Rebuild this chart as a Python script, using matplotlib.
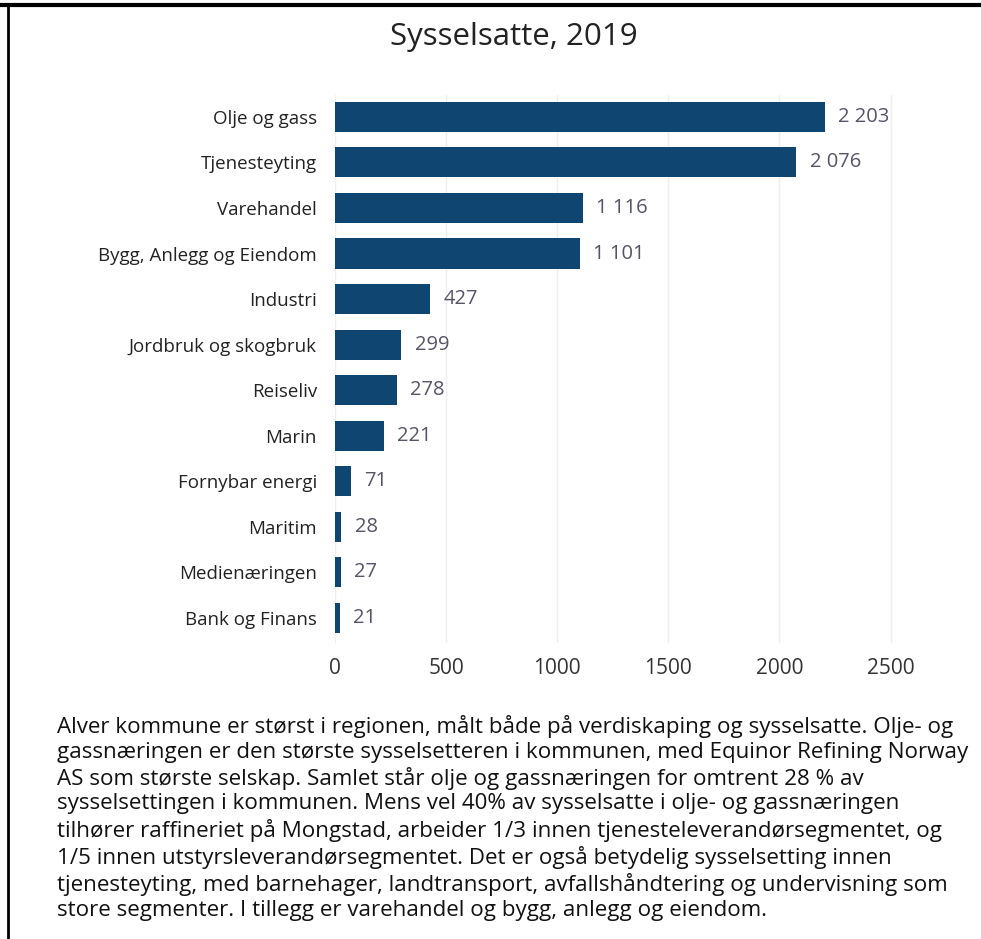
import matplotlib.pyplot as plt
from matplotlib.lines import Line2D

plt.rcParams['font.family'] = ['Open Sans', 'DejaVu Sans']

# data
categories = ['Olje og gass', 'Tjenesteyting', 'Varehandel', 'Bygg, Anlegg og Eiendom',
              'Industri', 'Jordbruk og skogbruk', 'Reiseliv', 'Marin',
              'Fornybar energi', 'Maritim', 'Medienæringen', 'Bank og Finans']
employed = [2203, 2076, 1116, 1101, 427, 299, 278, 221, 71, 28, 27, 21]
ticks = [0, 500, 1000, 1500, 2000, 2500]

title = 'Sysselsatte, 2019'
body = ('Alver kommune er størst i regionen, målt både på verdiskaping og sysselsatte. Olje- og\n'
        'gassnæringen er den største sysselsetteren i kommunen, med Equinor Refining Norway\n'
        'AS som største selskap. Samlet står olje og gassnæringen for omtrent 28 % av\n'
        'sysselsettingen i kommunen. Mens vel 40% av sysselsatte i olje- og gassnæringen\n'
        'tilhører raffineriet på Mongstad, arbeider 1/3 innen tjenesteleverandørsegmentet, og\n'
        '1/5 innen utstyrsleverandørsegmentet. Det er også betydelig sysselsetting innen\n'
        'tjenesteyting, med barnehager, landtransport, avfallshåndtering og undervisning som\n'
        'store segmenter. I tillegg er varehandel og bygg, anlegg og eiendom.')

W, H = 981, 939
fig = plt.figure(figsize=(W / 100, H / 100), dpi=100)

# axes placed in pixel terms: left 335, right ~935, top 95, bottom 643
ax = fig.add_axes([335 / W, 1 - 643 / H, (935 - 335) / W, (643 - 95) / H])
pos = list(range(len(categories)))
ax.barh(pos, employed, height=0.66, color='#0f4571', zorder=3)
ax.set_ylim(11.55, -0.48)
ax.set_xlim(0, 2700)
ax.set_xticks(ticks)
ax.set_xticklabels([str(t) for t in ticks], fontsize=15, color='#333333')
ax.set_yticks(pos)
ax.set_yticklabels(categories, fontsize=13.5, color='#222222')
ax.tick_params(axis='both', length=0)
ax.tick_params(axis='y', pad=13)
ax.tick_params(axis='x', pad=11)
for s in ax.spines.values():
    s.set_visible(False)
ax.grid(axis='x', color='#eeeeee', linewidth=1, zorder=0)

for p, v in zip(pos, employed):
    lbl = f'{v:,}'.replace(',', ' ')
    ax.text(v + 60, p, lbl, va='center', ha='left', fontsize=14.5, color='#555566')

fig.text(514 / W, 1 - 37 / H, title, ha='center', va='center', fontsize=22.5, color='#222222')
fig.text(57 / W, 1 - 715 / H, body, ha='left', va='top', fontsize=16.1,
         color='#111111', linespacing=1.23)

# frame lines (top and left)
fig.add_artist(Line2D([0, 1], [1 - 5 / H, 1 - 5 / H], color='black', linewidth=3,
                      transform=fig.transFigure))
fig.add_artist(Line2D([8 / W, 8 / W], [0, 1 - 5 / H], color='black', linewidth=2,
                      transform=fig.transFigure))

fig.savefig('out.png', dpi=100)
